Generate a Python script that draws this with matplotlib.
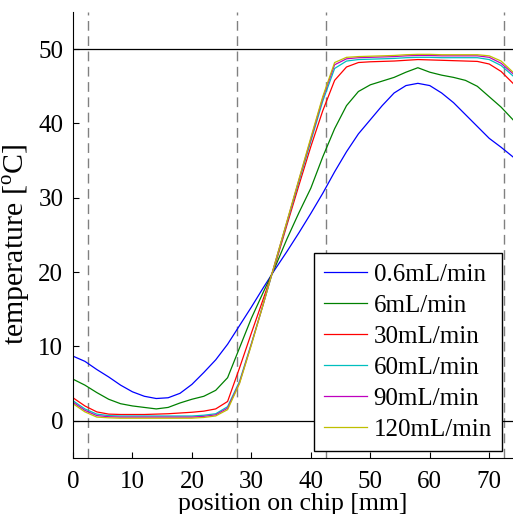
import matplotlib
matplotlib.use('Agg')
import matplotlib.pyplot as plt

plt.rcParams['font.family'] = 'Liberation Serif'
plt.rcParams['mathtext.fontset'] = 'custom'
plt.rcParams['mathtext.rm'] = 'Liberation Serif'

# position on chip [mm]
pos = [0, 2, 4, 6, 8, 10, 12, 14, 16, 18, 20, 22, 24, 26, 28, 30, 32, 34, 36,
       38, 40, 42, 44, 46, 48, 50, 52, 54, 56, 58, 60, 62, 64, 66, 68, 70, 72, 74]

t_06 = [8.7, 8.0, 6.9, 5.9, 4.8, 3.9, 3.3, 3.0, 3.1, 3.7, 4.9, 6.5, 8.2, 10.3,
        12.8, 15.3, 17.9, 20.4, 22.8, 25.3, 27.9, 30.6, 33.5, 36.2, 38.6, 40.5,
        42.4, 44.1, 45.1, 45.4, 45.1, 44.1, 42.8, 41.2, 39.6, 38.0, 36.8, 35.5]
t_6 = [5.6, 4.8, 3.8, 2.9, 2.3, 2.0, 1.8, 1.6, 1.8, 2.4, 2.9, 3.3, 4.1, 5.8,
       9.8, 13.8, 17.3, 20.7, 24.5, 28.0, 31.3, 35.5, 39.3, 42.4, 44.3, 45.2,
       45.7, 46.2, 46.9, 47.5, 46.9, 46.5, 46.2, 45.8, 45.0, 43.6, 42.2, 40.5]
t_30 = [3.1, 2.0, 1.2, 0.9, 0.85, 0.85, 0.85, 0.9, 0.95, 1.05, 1.15, 1.3, 1.6, 2.6,
        7.1, 11.8, 16.4, 21.0, 26.4, 31.7, 36.9, 41.7, 45.8, 47.6, 48.2, 48.3,
        48.35, 48.4, 48.5, 48.6, 48.55, 48.5, 48.45, 48.4, 48.35, 48.0, 47.0, 45.4]
t_60 = [2.7, 1.6, 0.9, 0.7, 0.65, 0.65, 0.65, 0.65, 0.65, 0.65, 0.65, 0.75, 0.95, 1.9,
        5.3, 10.4, 15.7, 21.2, 26.7, 32.2, 37.6, 43.0, 47.4, 48.4, 48.6, 48.65,
        48.7, 48.75, 48.85, 48.9, 48.9, 48.85, 48.85, 48.85, 48.85, 48.6, 47.8, 46.4]
t_90 = [2.5, 1.4, 0.7, 0.55, 0.5, 0.5, 0.5, 0.5, 0.5, 0.5, 0.5, 0.6, 0.8, 1.7,
        5.1, 10.3, 15.7, 21.3, 26.8, 32.4, 37.9, 43.4, 47.9, 48.7, 48.85, 48.9,
        48.95, 49.0, 49.1, 49.15, 49.15, 49.1, 49.1, 49.1, 49.1, 48.9, 48.1, 46.7]
t_120 = [2.3, 1.2, 0.5, 0.4, 0.35, 0.35, 0.35, 0.35, 0.35, 0.35, 0.35, 0.45, 0.65, 1.5,
         5.0, 10.2, 15.7, 21.3, 26.9, 32.5, 38.1, 43.6, 48.2, 48.9, 49.0, 49.05,
         49.1, 49.15, 49.25, 49.3, 49.3, 49.25, 49.25, 49.25, 49.25, 49.1, 48.4, 46.9]

labels = ['0.6mL/min', '6mL/min', '30mL/min', '60mL/min', '90mL/min', '120mL/min']
colors = [(0, 0, 1), (0, 0.5, 0), (1, 0, 0), (0, 0.75, 0.75), (0.75, 0, 0.75), (0.75, 0.75, 0)]
series = [t_06, t_6, t_30, t_60, t_90, t_120]

# zone boundaries and reference temperatures
zone_edges = [2.5, 27.5, 42.5, 72.5]
ref_temps = [0, 50]

fig = plt.figure(figsize=(5.13, 5.14), dpi=100)
ax = fig.add_axes([0.1423, 0.109, 0.8577, 0.8677])

for xe in zone_edges:
    ax.axvline(xe, color='0.5', lw=1.0, dashes=(7, 4))
for yr in ref_temps:
    ax.axhline(yr, color='black', lw=0.9)

for s, c, lab in zip(series, colors, labels):
    ax.plot(pos, s, color=c, lw=0.9, label=lab)

ax.set_xlim(0, 74)
ax.set_ylim(-5, 55)
ax.set_xticks(range(0, 71, 10))
ax.set_yticks(range(0, 51, 10))
ax.tick_params(direction='in', length=4, labelsize=18, width=0.8)
ax.tick_params(axis='y', pad=7)
ax.tick_params(axis='x', pad=9.5)
ax.spines['top'].set_visible(False)
ax.spines['right'].set_visible(False)

ax.set_xlabel('position on chip [mm]', fontsize=18.5, labelpad=0)
ax.set_ylabel(r'temperature [$^{\rm o}$C]', fontsize=21.5, labelpad=3.5)
ax.yaxis.label.set_y(0.478)

leg = ax.legend(loc='lower right', bbox_to_anchor=(0.975, 0.016), borderaxespad=0,
                fontsize=18, handlelength=1.72, handletextpad=0.25, labelspacing=0.34,
                borderpad=0.4, fancybox=False, framealpha=1, edgecolor='black')
leg.get_frame().set_linewidth(1.0)

fig.savefig('out.png', dpi=100)
